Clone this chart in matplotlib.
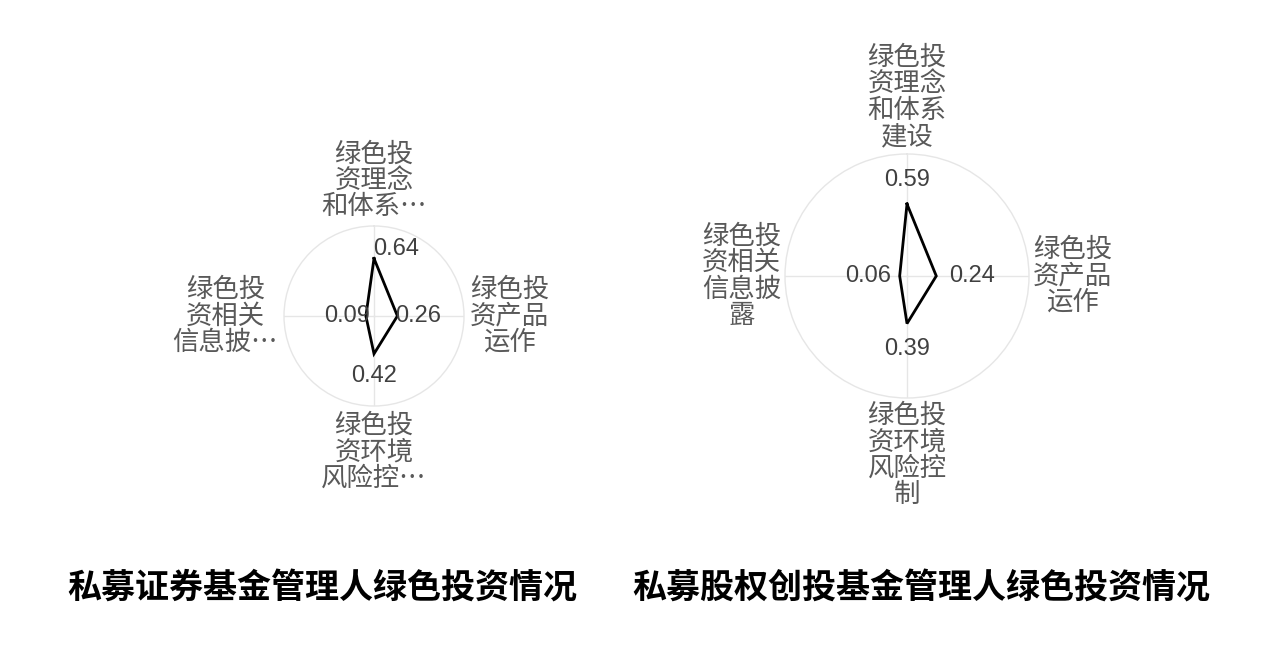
import numpy as np
import matplotlib.pyplot as plt

plt.rcParams['font.family'] = ['Noto Sans CJK SC', 'DejaVu Sans']

# left chart: private securities fund managers
left_categories = ['绿色投\n资理念\n和体系…', '绿色投\n资产品\n运作',
                   '绿色投\n资环境\n风险控…', '绿色投\n资相关\n信息披…']
left_values = [0.64, 0.26, 0.42, 0.09]
left_title = '私募证券基金管理人绿色投资情况'

# right chart: private equity / VC fund managers
right_categories = ['绿色投\n资理念\n和体系\n建设', '绿色投\n资产品\n运作',
                    '绿色投\n资环境\n风险控\n制', '绿色投\n资相关\n信息披\n露']
right_values = [0.59, 0.24, 0.39, 0.06]
right_title = '私募股权创投基金管理人绿色投资情况'

W, H = 1280, 663


def radar(fig, center, radius, categories, values, value_offsets, label_pad):
    cx, cy = center
    ax = fig.add_axes([(cx - radius) / W, 1 - (cy + radius) / H,
                       2 * radius / W, 2 * radius / H], projection='polar')
    n = len(categories)
    angles = np.arange(n) * 2 * np.pi / n
    ax.set_theta_zero_location('N')
    ax.set_theta_direction(-1)
    ax.set_ylim(0, 1)
    ax.set_xticks(angles)
    ax.set_xticklabels([])
    ax.set_yticks([])
    ax.xaxis.grid(True, color='#e6e6e6', lw=1)
    ax.spines['polar'].set_color('#e6e6e6')
    ax.spines['polar'].set_linewidth(1)

    closed_a = np.append(angles, angles[0])
    closed_v = np.append(values, values[0])
    ax.plot(closed_a, closed_v, color='black', lw=2, solid_joinstyle='miter')

    for a, v, off in zip(angles, values, value_offsets):
        ax.annotate(f'{v:.2f}', xy=(a, v), xytext=off, textcoords='offset pixels',
                    ha='center', va='center', fontsize=17, color='#404040',
                    family=['Liberation Sans', 'DejaVu Sans'])

    label_pos = [((0, label_pad), 'center', 'bottom'),
                 ((label_pad, 0), 'left', 'center'),
                 ((0, -label_pad), 'center', 'top'),
                 ((-label_pad, 0), 'right', 'center')]
    for a, lab, (off, ha, va) in zip(angles, categories, label_pos):
        ax.annotate(lab, xy=(a, 1), xytext=off, textcoords='offset pixels',
                    ha=ha, va=va, multialignment='center', fontsize=19,
                    color='#595959', linespacing=0.97, annotation_clip=False)
    return ax


fig = plt.figure(figsize=(12.8, 6.63), dpi=100)

radar(fig, (374, 316), 90, left_categories, left_values,
      [(22, 9), (21, 0), (0, -22), (-19, 0)], 6)
radar(fig, (907, 276), 122, right_categories, right_values,
      [(0, 24), (36, 0), (0, -25), (-32, 0)], 4)

fig.text(322 / W, 1 - 587 / H, left_title, ha='center', va='center',
         fontsize=24.5, fontweight='bold', color='black')
fig.text(921 / W, 1 - 587 / H, right_title, ha='center', va='center',
         fontsize=24.5, fontweight='bold', color='black')

fig.savefig('out.png', dpi=100, facecolor='white')
